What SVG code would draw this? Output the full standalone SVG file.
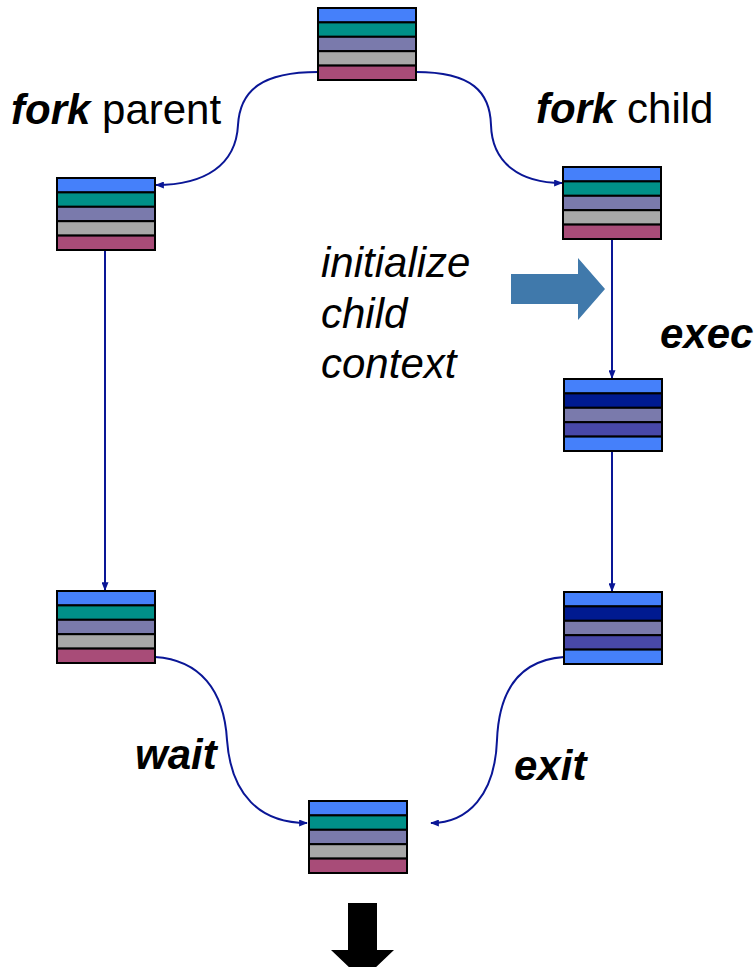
<svg xmlns="http://www.w3.org/2000/svg" xmlns:xlink="http://www.w3.org/1999/xlink" width="756" height="967" viewBox="0 0 756 967">
  <style>
    .band { stroke: #000; stroke-width: 2; }
    .b1 { fill: #4580FA; }
    .b2 { fill: #009088; }
    .b3 { fill: #7A7AAC; }
    .b4 { fill: #A8A8A8; }
    .b5 { fill: #A84C78; }
    .d2 { fill: #001A90; }
    .d4 { fill: #4848A8; }
    .conn { fill: none; stroke: #0A1696; stroke-width: 2; }
    .lbl { font-family: "Liberation Sans", Arial, sans-serif; font-size: 42px; fill: #000; }
    .bi { font-weight: bold; font-style: italic; }
    .it { font-style: italic; }
  </style>
  <defs>
    <marker id="arr" viewBox="0 0 10 8" refX="9" refY="4" markerWidth="9" markerHeight="7" markerUnits="userSpaceOnUse" orient="auto">
      <path d="M0,0 L10,4 L0,8 z" fill="#0A1696"/>
    </marker>
    <!-- process image: original context -->
    <g id="ctxA">
      <rect class="band b1" x="0" y="0" width="98" height="14.4"/>
      <rect class="band b2" x="0" y="14.4" width="98" height="14.4"/>
      <rect class="band b3" x="0" y="28.8" width="98" height="14.4"/>
      <rect class="band b4" x="0" y="43.2" width="98" height="14.4"/>
      <rect class="band b5" x="0" y="57.6" width="98" height="14.4"/>
    </g>
    <!-- process image after exec: new program -->
    <g id="ctxB">
      <rect class="band b1" x="0" y="0" width="98" height="14.4"/>
      <rect class="band d2" x="0" y="14.4" width="98" height="14.4"/>
      <rect class="band b3" x="0" y="28.8" width="98" height="14.4"/>
      <rect class="band d4" x="0" y="43.2" width="98" height="14.4"/>
      <rect class="band b1" x="0" y="57.6" width="98" height="14.4"/>
    </g>
  </defs>

  <rect width="756" height="967" fill="#fff"/>

  <g id="connectors">
    <path class="conn" marker-end="url(#arr)" d="M318,72 C262,72 240,90 238,125 C236,165 205,185 156,185"/>
    <path class="conn" marker-end="url(#arr)" d="M416,72 C472,72 490,92 491,125 C492,163 520,183 562,183"/>
    <path class="conn" marker-end="url(#arr)" d="M105,249 L105,590"/>
    <path class="conn" marker-end="url(#arr)" d="M612,239 L612,378"/>
    <path class="conn" marker-end="url(#arr)" d="M612,451 L612,591"/>
    <path class="conn" marker-end="url(#arr)" d="M155,657 C200,660 224,690 227,740 C231,795 260,823 307,823"/>
    <path class="conn" marker-end="url(#arr)" d="M564,657 C520,660 499,690 497,740 C495,795 468,823 431,823"/>
  </g>

  <g id="node-origin"><use xlink:href="#ctxA" x="318" y="8"/></g>
  <g id="node-parent"><use xlink:href="#ctxA" x="57" y="178"/></g>
  <g id="node-child"><use xlink:href="#ctxA" x="563" y="167"/></g>
  <g id="node-exec"><use xlink:href="#ctxB" x="564" y="379"/></g>
  <g id="node-exit"><use xlink:href="#ctxB" x="564" y="592"/></g>
  <g id="node-wait"><use xlink:href="#ctxA" x="57" y="591"/></g>
  <g id="node-final"><use xlink:href="#ctxA" x="309" y="801"/></g>

  <!-- block arrows -->
  <polygon id="init-arrow" points="511,274 578,274 578,258 605,289 578,320 578,304 511,304" fill="#4079AB"/>
  <polygon id="down-arrow" points="348,903 377,903 377,950 394,950 362.5,980 331,950 348,950" fill="#000"/>

  <g id="labels">
    <text class="lbl" x="11" y="124"><tspan class="bi">fork</tspan> parent</text>
    <text class="lbl" x="536" y="123"><tspan class="bi">fork</tspan> child</text>
    <text class="lbl it" x="321" y="277">initialize</text>
    <text class="lbl it" x="321" y="328">child</text>
    <text class="lbl it" x="321" y="378">context</text>
    <text class="lbl bi" x="660" y="348">exec</text>
    <text class="lbl bi" x="135" y="769">wait</text>
    <text class="lbl bi" x="514" y="780">exit</text>
  </g>
</svg>
